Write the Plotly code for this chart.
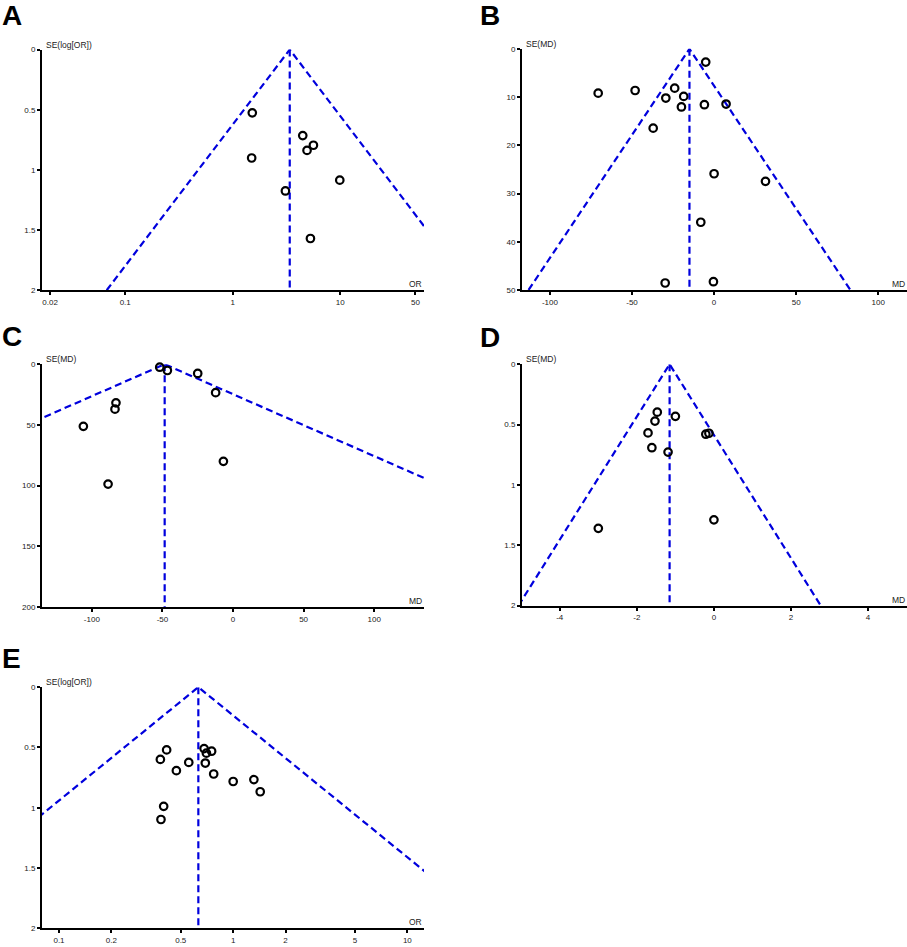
import numpy as np
import plotly.graph_objects as go

# ---- data ----
# A: OR scale
A_or = [1.52, 1.50, 4.48, 5.63, 4.91, 9.9, 3.09, 5.28]
A_se = [0.526, 0.901, 0.715, 0.795, 0.838, 1.085, 1.175, 1.570]
A_pooled = 3.39

# B: MD scale
B_md = [-5.1, -70.6, -48.1, -24.0, -29.4, -18.5, -19.9, -5.9, 7.3, -37.1, 0.0, 31.3, -8.1, -29.8, -0.4]
B_se = [2.74, 9.18, 8.63, 8.15, 10.2, 9.86, 12.05, 11.58, 11.44, 16.44, 25.9, 27.47, 35.96, 48.56, 48.29]
B_pooled = -15.0

# C: MD scale
C_md = [-51.9, -46.5, -25.0, -12.3, -82.9, -83.6, -106.0, -6.8, -88.5]
C_se = [2.45, 5.17, 7.6, 23.4, 31.8, 37.0, 51.2, 80.0, 98.8]
C_pooled = -48.4

# D: MD scale
D_md = [-1.47, -1.00, -1.53, -1.71, -0.21, -0.13, -1.61, -1.19, -3.00, 0.0]
D_se = [0.397, 0.432, 0.471, 0.569, 0.58, 0.572, 0.692, 0.728, 1.36, 1.29]
D_pooled = -1.15

# E: OR scale
E_or = [0.415, 0.382, 0.472, 0.556, 0.681, 0.702, 0.752, 0.692, 0.773, 1.0, 1.315, 1.43, 0.399, 0.385]
E_se = [0.520, 0.599, 0.692, 0.624, 0.509, 0.547, 0.531, 0.629, 0.720, 0.782, 0.766, 0.867, 0.988, 1.097]
E_pooled = 0.631

# ticks
A_xticks = [0.02, 0.1, 1, 10, 50]
E_xticks = [0.1, 0.2, 0.5, 1, 2, 5, 10]
B_xticks = [-100, -50, 0, 50, 100]
C_xticks = [-100, -50, 0, 50, 100]
D_xticks = [-4, -2, 0, 2, 4]
se2_ticks = [0, 0.5, 1, 1.5, 2]
B_yticks = [0, 10, 20, 30, 40, 50]
C_yticks = [0, 50, 100, 150, 200]

W, H = 907, 947
BLUE = "#0000DD"
FONT = "Arial, Liberation Sans, sans-serif"


def px_dom(x0, x1, y0, y1):
    return [x0 / W, x1 / W], [1 - y1 / H, 1 - y0 / H]


def fmt(v):
    return ("%g" % v)


def ax(letter, k):
    # trace ref ("x", "x2", ...) and layout key ("xaxis", "xaxis2", ...)
    ref = letter if k == 1 else "%s%d" % (letter, k)
    key = letter + "axis" + ("" if k == 1 else str(k))
    return ref, key


panels = [
    dict(letter="A", x=A_or, se=A_se, pooled=A_pooled, log=True, xr=[-1.774, 1.779],
         xt=A_xticks, smax=2, yt=se2_ticks, yl="SE(log[OR])", xl="OR",
         box=(42, 424, 46, 289), lp=(0, 12)),
    dict(letter="B", x=B_md, se=B_se, pooled=B_pooled, log=False, xr=[-117, 117.5],
         xt=B_xticks, smax=50, yt=B_yticks, yl="SE(MD)", xl="MD",
         box=(522, 907, 45.3, 288.7), lp=(478, 12)),
    dict(letter="C", x=C_md, se=C_se, pooled=C_pooled, log=False, xr=[-135.3, 135.3],
         xt=C_xticks, smax=200, yt=C_yticks, yl="SE(MD)", xl="MD",
         box=(42, 424, 363.7, 608.7), lp=(0, 336)),
    dict(letter="D", x=D_md, se=D_se, pooled=D_pooled, log=False, xr=[-4.98, 5.01],
         xt=D_xticks, smax=2, yt=se2_ticks, yl="SE(MD)", xl="MD",
         box=(522, 907, 363.7, 607.3), lp=(478, 337)),
    dict(letter="E", x=E_or, se=E_se, pooled=E_pooled, log=True, xr=[-1.0976, 1.0957],
         xt=E_xticks, smax=2, yt=se2_ticks, yl="SE(log[OR])", xl="OR",
         box=(42, 424, 689.7, 933.3), lp=(0, 661)),
]

fig = go.Figure()
layout = dict(width=W, height=H, margin=dict(l=0, r=0, t=0, b=0),
              paper_bgcolor="white", plot_bgcolor="white", showlegend=False,
              font=dict(family=FONT, color="#222"))
annotations = []

for i, p in enumerate(panels):
    n = 2 * i + 1          # main axes
    m = 2 * i + 2          # overlay axes (inner half of the crossing ticks)
    xa, xkey = ax("x", n)
    ya, ykey = ax("y", n)
    xo, xokey = ax("x", m)
    yo, yokey = ax("y", m)
    xd, yd = px_dom(*p["box"])
    smax = p["smax"]
    pooled = p["pooled"]

    # funnel limits
    if p["log"]:
        fx = [pooled * np.exp(-1.96 * smax), pooled, pooled * np.exp(1.96 * smax)]
    else:
        fx = [pooled - 1.96 * smax, pooled, pooled + 1.96 * smax]
    fig.add_trace(go.Scatter(x=fx, y=[smax, 0, smax], mode="lines", xaxis=xa, yaxis=ya,
                             line=dict(color=BLUE, width=2.2, dash="7px,4px"), hoverinfo="skip"))
    fig.add_trace(go.Scatter(x=[pooled, pooled], y=[0, smax], mode="lines", xaxis=xa, yaxis=ya,
                             line=dict(color=BLUE, width=2.2, dash="7px,4px"), hoverinfo="skip"))
    fig.add_trace(go.Scatter(x=p["x"], y=p["se"], mode="markers", xaxis=xa, yaxis=ya,
                             cliponaxis=False,
                             marker=dict(symbol="circle-open", size=7.5, color="black",
                                         line=dict(width=2.2, color="black"))))

    xtype = "log" if p["log"] else "linear"
    xcommon = dict(range=p["xr"], type=xtype, tickvals=p["xt"], ticktext=[fmt(v) for v in p["xt"]],
                   showgrid=False, zeroline=False, tickcolor="black", tickwidth=1.5, ticklen=3)
    ycommon = dict(range=[smax, 0], tickvals=p["yt"], ticktext=[fmt(v) for v in p["yt"]],
                   showgrid=False, zeroline=False, tickcolor="black", tickwidth=1.5, ticklen=3)

    layout[xkey] = dict(domain=xd, anchor=ya, ticks="outside", showline=True,
                        linecolor="black", linewidth=2,
                        tickfont=dict(size=8, family=FONT, color="#222"), **xcommon)
    layout[ykey] = dict(domain=yd, anchor=xa, ticks="outside", showline=True,
                        linecolor="black", linewidth=2,
                        tickfont=dict(size=8, family=FONT, color="#222"), **ycommon)
    layout[xokey] = dict(overlaying=xa, anchor=ya, side="bottom", ticks="inside",
                         showticklabels=False, showline=False, **xcommon)
    layout[yokey] = dict(overlaying=ya, anchor=xa, side="left", ticks="inside",
                         showticklabels=False, showline=False, **ycommon)

    # axis titles
    annotations.append(dict(text=p["yl"], xref=xa + " domain", yref=ya + " domain", x=0, y=1,
                            xanchor="left", yanchor="middle", xshift=2, yshift=5,
                            showarrow=False, font=dict(size=8.5, family=FONT, color="#222")))
    annotations.append(dict(text=p["xl"], xref=xa + " domain", yref=ya + " domain", x=1, y=0,
                            xanchor="right", yanchor="middle", xshift=0, yshift=6,
                            showarrow=False, font=dict(size=8.5, family=FONT, color="#222")))
    # panel letter
    lx, ly = p["lp"]
    annotations.append(dict(text="<b>%s</b>" % p["letter"], xref="paper", yref="paper",
                            x=lx / W, y=1 - ly / H, xanchor="left", yanchor="middle",
                            showarrow=False, font=dict(size=28, family=FONT, color="black")))

layout["annotations"] = annotations
fig.update_layout(**layout)

# drop the browser's default 8px body margin so the figure sits at the page corner
fig.write_html("out.html", config={"displayModeBar": False},
               post_script="document.body.style.margin='0';")
